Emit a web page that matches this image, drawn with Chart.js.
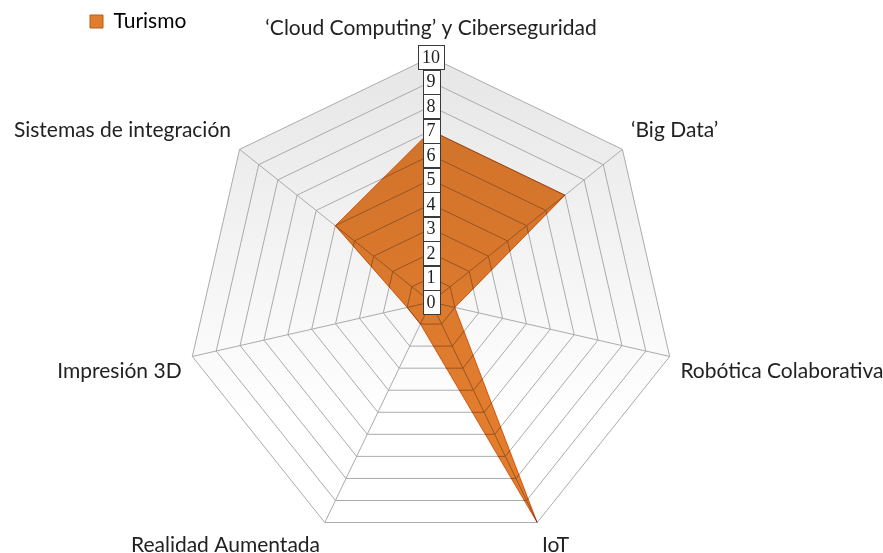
<!DOCTYPE html>
<html lang="es">
<head>
<meta charset="utf-8">
<title>Turismo</title>
<script src="https://cdn.jsdelivr.net/npm/chart.js@4"></script>
<style>
  html, body { margin: 0; background: #fff; width: 883px; height: 553px; overflow: hidden; }
  /* canvas is wider/taller than the window so the long side labels
     do not shrink the web; the overflow is simply cut off */
  .wrap { position: absolute; left: -80px; top: 0; width: 1022px; height: 572px; }
</style>
</head>
<body>
<div class="wrap"><canvas id="radarChart"></canvas></div>
<script>
const categories = [
  "‘Cloud Computing’ y Ciberseguridad",
  "‘Big Data’",
  "Robótica Colaborativa",
  "IoT",
  "Realidad Aumentada",
  "Impresión 3D",
  "Sistemas de integración"
];
const turismo = [7, 7, 1, 10, 1, 1, 5];
const tickValues = [0, 1, 2, 3, 4, 5, 6, 7, 8, 9, 10];

const orange = "#e37d2e";
const labelFont = "Lato";
const offsetX = 80; // how far the canvas sticks out on the left

// fill multiplied over the grid so the lines show through darker, like the original
const multiplyFill = {
  id: "multiplyFill",
  beforeDatasetsDraw(chart) {
    chart.ctx.save();
    chart.ctx.globalCompositeOperation = "multiply";
  },
  afterDatasetsDraw(chart) {
    chart.ctx.restore();
  }
};

// boxed scale numbers along the first axis
const tickBoxes = {
  id: "tickBoxes",
  afterDatasetsDraw(chart) {
    const scale = chart.scales.r;
    const ctx = chart.ctx;
    ctx.save();
    ctx.font = '18px "Liberation Serif"';
    ctx.textAlign = "center";
    ctx.textBaseline = "middle";
    tickValues.forEach(v => {
      const p = scale.getPointPositionForValue(0, v);
      const text = String(v);
      const w = Math.round(ctx.measureText(text).width + 8);
      const h = 24;
      const x = Math.round(p.x - w / 2) + 0.5;
      const y = Math.round(p.y - h / 2) + 0.5;
      ctx.fillStyle = "#ffffff";
      ctx.fillRect(x, y, w, h);
      ctx.strokeStyle = "#3a3a3a";
      ctx.lineWidth = 1;
      ctx.strokeRect(x, y, w, h);
      ctx.fillStyle = "#222";
      ctx.fillText(text, p.x, p.y + 1);
    });
    ctx.restore();
  }
};

// legend sits at the top left, outside the layout
const legendShift = {
  id: "legendShift",
  beforeDraw(chart) {
    const lg = chart.legend;
    const w = lg.width;
    const h = lg.height;
    lg.left = offsetX + 80;
    lg.right = lg.left + w;
    lg.top = 1;
    lg.bottom = 1 + h;
  }
};

document.addEventListener("DOMContentLoaded", () => {
  const canvas = document.getElementById("radarChart");
  const g = canvas.getContext("2d").createLinearGradient(0, 55, 0, 420);
  g.addColorStop(0, "#e6e6e6");
  g.addColorStop(1, "#ffffff");

  new Chart(canvas, {
    type: "radar",
    data: {
      labels: categories,
      datasets: [{
        label: "Turismo",
        data: turismo,
        backgroundColor: orange,
        borderColor: orange,
        borderWidth: 1,
        pointRadius: 0,
        fill: true
      }]
    },
    options: {
      responsive: true,
      maintainAspectRatio: false,
      animation: false,
      layout: { padding: 0 },
      plugins: {
        legend: {
          position: "chartArea",
          align: "start",
          labels: {
            boxWidth: 13,
            boxHeight: 13,
            color: "#222",
            font: { family: labelFont, size: 21 },
            generateLabels: chart => [{
              text: "Turismo",
              fillStyle: orange,
              strokeStyle: "#b85d18",
              lineWidth: 1,
              datasetIndex: 0
            }]
          }
        },
        tooltip: { enabled: false }
      },
      scales: {
        r: {
          min: 0,
          max: 10,
          backgroundColor: g,
          ticks: { display: false, stepSize: 1 },
          grid: { color: "#ababab", lineWidth: 1 },
          angleLines: { color: "#ababab", lineWidth: 1 },
          pointLabels: {
            color: "#222",
            padding: ctx => (ctx.index === 0 ? 16 : 11),
            font: { family: labelFont, size: 21 }
          }
        }
      }
    },
    plugins: [legendShift, multiplyFill, tickBoxes]
  });
});
</script>
</body>
</html>
